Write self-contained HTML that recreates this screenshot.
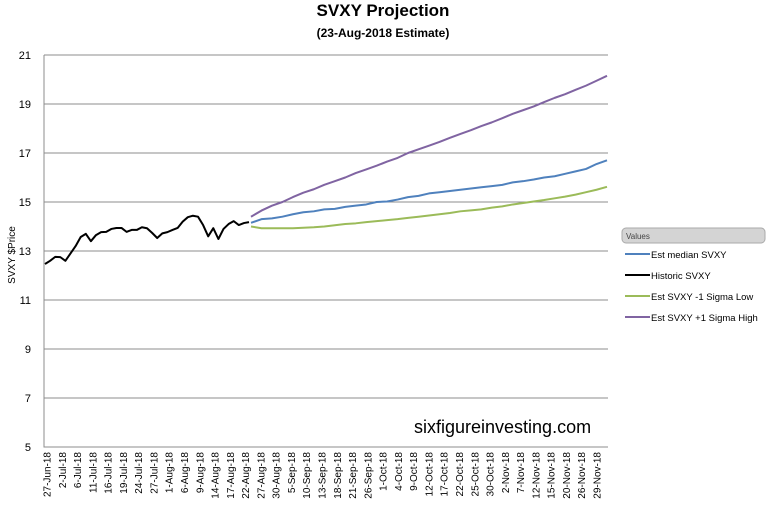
<!DOCTYPE html>
<html><head><meta charset="utf-8"><style>
body{margin:0;background:#fff;}
svg text{font-family:"Liberation Sans",sans-serif;}
</style></head><body>
<svg id="c" width="770" height="511">
<text x="383" y="16" text-anchor="middle" font-size="17" font-weight="bold">SVXY Projection</text>
<text x="383" y="37" text-anchor="middle" font-size="12" font-weight="bold">(23-Aug-2018 Estimate)</text>
<text transform="translate(15,255) rotate(-90)" text-anchor="middle" font-size="10">SVXY $Price</text>
<text x="414" y="433" font-size="18">sixfigureinvesting.com</text>
<g id="grid"></g><g id="xl"></g><g id="series"></g>
<g>
<rect x="622" y="228" width="143" height="15" rx="4" fill="#d4d4d4" stroke="#aaa"/>
<text x="626" y="239" font-size="8" fill="#444">Values</text>
<g><line x1="625" x2="650" y1="254" y2="254" stroke="#4f81bd" stroke-width="2"/><text x="651" y="258" font-size="9.5">Est median SVXY</text></g>
<g><line x1="625" x2="650" y1="275" y2="275" stroke="#000" stroke-width="2"/><text x="651" y="279" font-size="9.5">Historic SVXY</text></g>
<g><line x1="625" x2="650" y1="296" y2="296" stroke="#9bbb59" stroke-width="2"/><text x="651" y="300" font-size="9.5">Est SVXY -1 Sigma Low</text></g>
<g><line x1="625" x2="650" y1="317" y2="317" stroke="#8064a2" stroke-width="2"/><text x="651" y="321" font-size="9.5">Est SVXY +1 Sigma High</text></g>
</g>
</svg>
<script>
const yTicks=[5,7,9,11,13,15,17,19,21];
const xLabels=["27-Jun-18","2-Jul-18","6-Jul-18","11-Jul-18","16-Jul-18","19-Jul-18","24-Jul-18","27-Jul-18","1-Aug-18","6-Aug-18","9-Aug-18","14-Aug-18","17-Aug-18","22-Aug-18","27-Aug-18","30-Aug-18","5-Sep-18","10-Sep-18","13-Sep-18","18-Sep-18","21-Sep-18","26-Sep-18","1-Oct-18","4-Oct-18","9-Oct-18","12-Oct-18","17-Oct-18","22-Oct-18","25-Oct-18","30-Oct-18","2-Nov-18","7-Nov-18","12-Nov-18","15-Nov-18","20-Nov-18","26-Nov-18","29-Nov-18"];
const historic=[12.47,12.6,12.76,12.75,12.6,12.9,13.2,13.57,13.7,13.4,13.65,13.77,13.78,13.9,13.94,13.94,13.78,13.86,13.86,13.97,13.93,13.74,13.53,13.72,13.77,13.86,13.94,14.2,14.38,14.44,14.4,14.06,13.6,13.93,13.49,13.9,14.1,14.22,14.06,14.14,14.18];
const high=[14.4,14.65,14.85,15.0,15.2,15.38,15.52,15.7,15.85,16.0,16.18,16.33,16.48,16.65,16.8,17.0,17.15,17.3,17.45,17.62,17.78,17.93,18.1,18.25,18.42,18.6,18.75,18.9,19.08,19.25,19.4,19.58,19.75,19.95,20.15];
const median=[14.15,14.3,14.33,14.4,14.5,14.58,14.62,14.7,14.72,14.8,14.85,14.9,15.0,15.02,15.1,15.2,15.25,15.35,15.4,15.45,15.5,15.55,15.6,15.65,15.7,15.8,15.85,15.92,16.0,16.05,16.15,16.25,16.35,16.55,16.7];
const low=[14.0,13.93,13.93,13.93,13.93,13.95,13.97,14.0,14.05,14.1,14.13,14.18,14.22,14.26,14.3,14.35,14.4,14.45,14.5,14.55,14.62,14.66,14.7,14.77,14.82,14.9,14.96,15.02,15.08,15.15,15.22,15.3,15.4,15.5,15.62];
const NS="http://www.w3.org/2000/svg";
const L=44,R=608,T=55,B=447;
const y=v=>B-(v-5)/(21-5)*(B-T);
const xh=i=>45+i*5.1;
const xp=i=>251+i*(607-251)/(high.length-1);
const xlab=i=>47+i*(597-47)/(xLabels.length-1);
function mk(tag,attrs,parent){const e=document.createElementNS(NS,tag);for(const k in attrs)e.setAttribute(k,attrs[k]);parent.appendChild(e);return e;}
const grid=document.getElementById('grid');
yTicks.forEach(t=>{
  if(t>5){const g=mk('line',{x1:L,x2:R,y1:y(t),y2:y(t),stroke:'#8c8c8c','stroke-width':1},grid);
  
  }
  const tx=mk('text',{x:31,y:y(t)+4,'text-anchor':'end','font-size':11},grid);
  tx.textContent=t;
  
  
});
const ax=mk('path',{d:`M${L} ${T} V${B} H${R}`,fill:'none',stroke:'#8c8c8c','stroke-width':1},grid);


const xl=document.getElementById('xl');
xLabels.forEach((s,i)=>{
  const tx=mk('text',{transform:`translate(${xlab(i)+3.5},452) rotate(-90)`,'text-anchor':'end','font-size':10},xl);
  tx.textContent=s;
  
  
});
const sg=document.getElementById('series');
function line(vals,xf,color,name){
  const p=mk('polyline',{points:vals.map((v,i)=>xf(i)+','+y(v)).join(' '),fill:'none',stroke:color,'stroke-width':2,'stroke-linejoin':'round'},sg);
  
  
}
line(low,xp,'#9bbb59','line-sigma-low');
line(median,xp,'#4f81bd','line-median');
line(high,xp,'#8064a2','line-sigma-high');
line(historic,xh,'#000','line-historic');
</script>
</body></html>
